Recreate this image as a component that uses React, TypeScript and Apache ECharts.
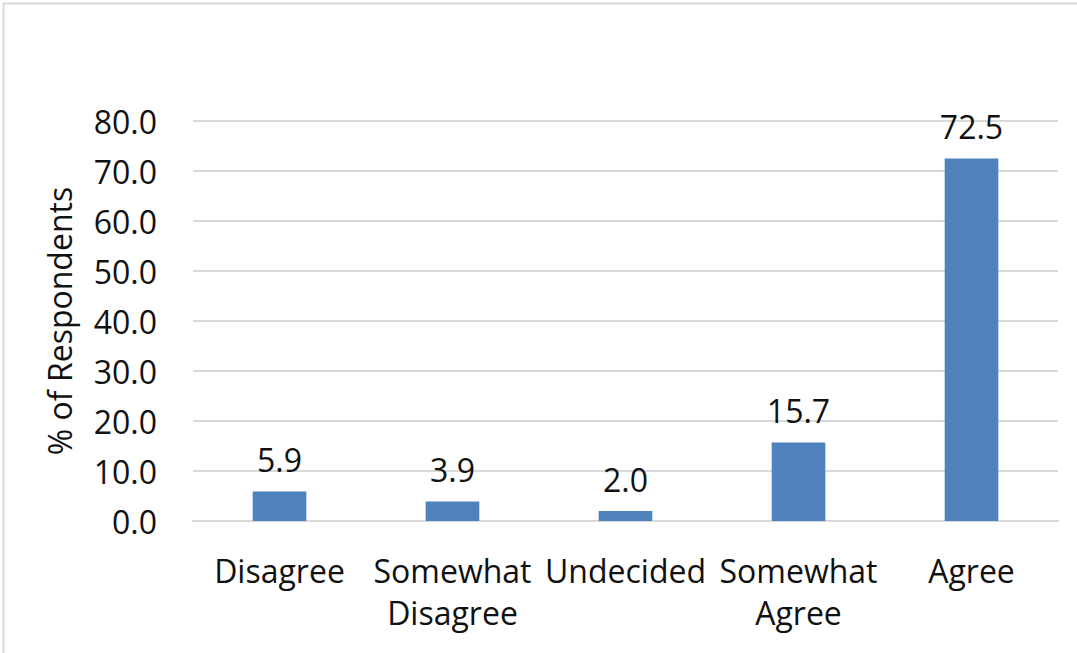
import React, { useEffect, useRef } from "react";
import * as echarts from "echarts";

const categories = ["Disagree", "Somewhat\nDisagree", "Undecided", "Somewhat\nAgree", "Agree"];
const percentValues = [5.9, 3.9, 2.0, 15.7, 72.5];
const yAxisTitle = "% of Respondents";

const FONT = "'Open Sans', sans-serif";
const TEXT_COLOR = "#111111";
const FONT_SIZE = 32;

export default function App() {
  const ref = useRef<HTMLDivElement>(null);

  useEffect(() => {
    if (!ref.current) return;
    const chart = echarts.init(ref.current, undefined, { renderer: "svg" });
    chart.setOption({
      animation: false,
      backgroundColor: "#ffffff",
      textStyle: { fontFamily: FONT },
      graphic: [
        {
          type: "polyline",
          shape: { points: [[3.5, 653], [3.5, 3.5], [1077, 3.5]] },
          style: { stroke: "#d9d9d9", lineWidth: 2, fill: "none" },
          silent: true,
        },
      ],
      grid: { left: 193, right: 19, top: 121, bottom: 132, containLabel: false },
      xAxis: {
        type: "category",
        data: categories,
        axisLine: { show: true, lineStyle: { color: "#d9d9d9", width: 2 } },
        axisTick: { show: false },
        axisLabel: {
          interval: 0,
          margin: 28,
          fontSize: FONT_SIZE,
          lineHeight: 42,
          color: TEXT_COLOR,
          fontFamily: FONT,
        },
      },
      yAxis: {
        type: "value",
        min: 0,
        max: 80,
        interval: 10,
        name: yAxisTitle,
        nameLocation: "middle",
        nameGap: 118,
        nameTextStyle: { fontSize: FONT_SIZE, color: TEXT_COLOR, fontFamily: FONT },
        axisLine: { show: false },
        axisTick: { show: false },
        axisLabel: {
          margin: 36,
          fontSize: FONT_SIZE,
          color: TEXT_COLOR,
          fontFamily: FONT,
          formatter: (v: number) => v.toFixed(1),
        },
        splitLine: { lineStyle: { color: "#d9d9d9", width: 2 } },
      },
      series: [
        {
          type: "bar",
          data: percentValues,
          barWidth: "31%",
          itemStyle: { color: "#4f81bd" },
          label: {
            show: true,
            position: "top",
            distance: 16,
            fontSize: FONT_SIZE,
            color: TEXT_COLOR,
            fontFamily: FONT,
            formatter: (p: any) => Number(p.value).toFixed(1),
          },
        },
      ],
    });
    return () => chart.dispose();
  }, []);

  return (
    <div
      ref={ref}
      style={{ position: "fixed", left: 0, top: 0, width: 1077, height: 653 }}
    />
  );
}
